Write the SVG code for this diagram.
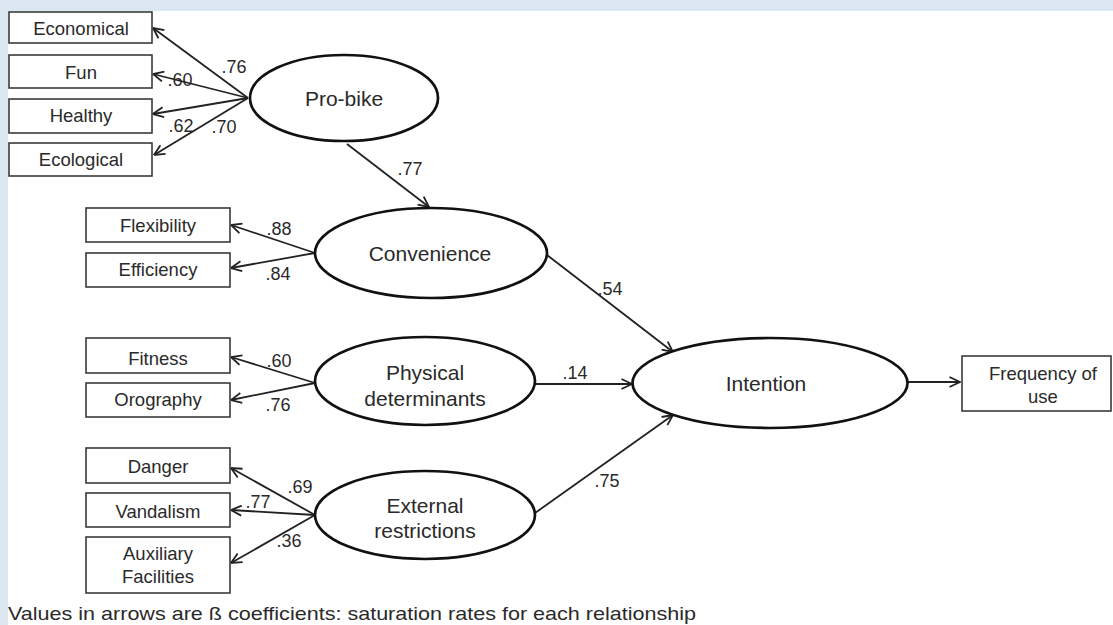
<svg xmlns="http://www.w3.org/2000/svg" width="1113" height="625" viewBox="0 0 1113 625">
<style>
.box{fill:#fff;stroke:#3a3a3a;stroke-width:1.6}
.ell{fill:#fff;stroke:#111;stroke-width:2.7}
.t{font-family:"Liberation Sans",Arial,sans-serif;fill:#2a2a2a;text-anchor:middle}
.bt{font-size:18.5px}
.et{font-size:21px}
.lb{font-size:18px}
.con{stroke:#222;stroke-width:1.8;fill:none;marker-end:url(#ah)}
</style>
<defs>
<marker id="ah" viewBox="0 0 12 12" refX="11.5" refY="6" markerWidth="12" markerHeight="12" markerUnits="userSpaceOnUse" orient="auto">
<path d="M1,1 L11.5,6 L1,11" fill="none" stroke="#222" stroke-width="1.8"/>
</marker>
</defs>
<rect x="0" y="0" width="1113" height="625" fill="#dce6f1"/>
<rect x="8" y="11" width="1105" height="614" fill="#fff"/>

<g id="connectors">
<line class="con" x1="248" y1="98" x2="153" y2="28"/>
<line class="con" x1="248" y1="98" x2="153" y2="74"/>
<line class="con" x1="248" y1="98" x2="153" y2="114"/>
<line class="con" x1="248" y1="98" x2="154" y2="155"/>
<line class="con" x1="347" y1="144" x2="429" y2="207"/>
<line class="con" x1="315" y1="253" x2="231" y2="225"/>
<line class="con" x1="315" y1="253" x2="231" y2="268"/>
<line class="con" x1="315" y1="383" x2="231" y2="357"/>
<line class="con" x1="315" y1="383" x2="231" y2="400"/>
<line class="con" x1="315" y1="515" x2="231" y2="468"/>
<line class="con" x1="315" y1="515" x2="231" y2="510"/>
<line class="con" x1="315" y1="515" x2="231" y2="563"/>
<line class="con" x1="547" y1="255" x2="673" y2="352"/>
<line class="con" x1="535" y1="384" x2="632" y2="384"/>
<line class="con" x1="535" y1="513" x2="673" y2="415"/>
<line class="con" x1="908" y1="382" x2="960" y2="382"/>
<g class="t lb">
<text x="234" y="73">.76</text>
<text x="180" y="86">.60</text>
<text x="181" y="132">.62</text>
<text x="224" y="133">.70</text>
<text x="410" y="175">.77</text>
<text x="279" y="235">.88</text>
<text x="278" y="280">.84</text>
<text x="279" y="367">.60</text>
<text x="278" y="411">.76</text>
<text x="300" y="493">.69</text>
<text x="258" y="508">.77</text>
<text x="289" y="547">.36</text>
<text x="610" y="295">.54</text>
<text x="575" y="379">.14</text>
<text x="607" y="487">.75</text>
</g>
</g>

<g id="economical"><rect class="box" x="9" y="12" width="143" height="31"/><text class="t bt" x="81" y="35">Economical</text></g>
<g id="fun"><rect class="box" x="9" y="55" width="143" height="33"/><text class="t bt" x="81" y="79">Fun</text></g>
<g id="healthy"><rect class="box" x="9" y="99" width="143" height="34"/><text class="t bt" x="81" y="122">Healthy</text></g>
<g id="ecological"><rect class="box" x="9" y="143" width="143" height="33"/><text class="t bt" x="81" y="166">Ecological</text></g>

<g id="pro-bike"><ellipse class="ell" cx="344" cy="98" rx="94" ry="43"/><text class="t et" x="344" y="106">Pro-bike</text></g>

<g id="flexibility"><rect class="box" x="86" y="208" width="144" height="34"/><text class="t bt" x="158" y="232">Flexibility</text></g>
<g id="efficiency"><rect class="box" x="86" y="253" width="144" height="34"/><text class="t bt" x="158" y="276">Efficiency</text></g>
<g id="convenience"><ellipse class="ell" cx="431" cy="253" rx="116" ry="45"/><text class="t et" x="430" y="261">Convenience</text></g>

<g id="fitness"><rect class="box" x="86" y="338" width="144" height="35"/><text class="t bt" x="158" y="365">Fitness</text></g>
<g id="orography"><rect class="box" x="86" y="383" width="144" height="34"/><text class="t bt" x="158" y="406">Orography</text></g>
<g id="physical"><ellipse class="ell" cx="425" cy="381" rx="110" ry="44"/><text class="t et" x="425" y="380">Physical</text><text class="t et" x="425" y="406">determinants</text></g>

<g id="danger"><rect class="box" x="86" y="448" width="144" height="35"/><text class="t bt" x="158" y="473">Danger</text></g>
<g id="vandalism"><rect class="box" x="86" y="493" width="144" height="34"/><text class="t bt" x="158" y="518">Vandalism</text></g>
<g id="auxiliary"><rect class="box" x="86" y="537" width="144" height="56"/><text class="t bt" x="158" y="560">Auxiliary</text><text class="t bt" x="158" y="583">Facilities</text></g>
<g id="external"><ellipse class="ell" cx="425" cy="515" rx="110" ry="44"/><text class="t et" x="425" y="513">External</text><text class="t et" x="425" y="538">restrictions</text></g>

<g id="intention"><ellipse class="ell" cx="770" cy="383" rx="137.5" ry="45"/><text class="t et" x="766" y="391">Intention</text></g>
<g id="frequency"><rect class="box" x="962" y="356" width="149" height="55"/><text class="t bt" x="1043" y="380">Frequency of</text><text class="t bt" x="1043" y="403">use</text></g>

<text class="t" x="8" y="620" textLength="688" lengthAdjust="spacingAndGlyphs" style="font-size:19px;text-anchor:start">Values in arrows are ß coefficients: saturation rates for each relationship</text>
</svg>
